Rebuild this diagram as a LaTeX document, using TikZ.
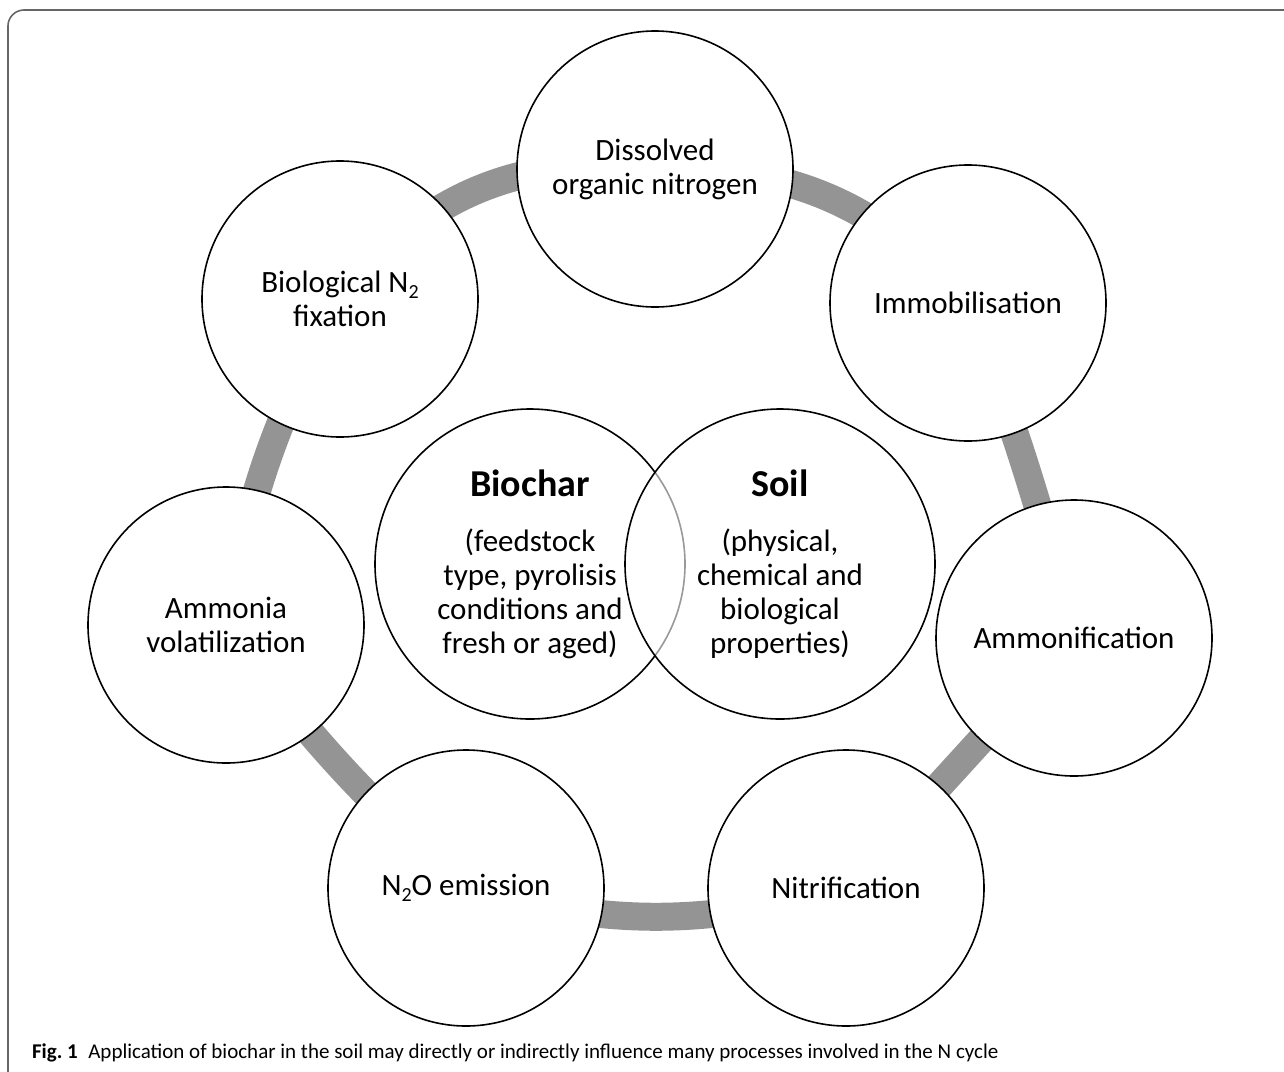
\documentclass[tikz,border=0pt]{standalone}
\usepackage{fontspec}
\setmainfont{Carlito}
\usetikzlibrary{backgrounds}

\begin{document}
\begin{tikzpicture}[-,
					x=0.5pt, y=-0.5pt,
					thick,
					main node/.style={circle,draw,fill=white,minimum size=138pt,inner sep=0pt,align=center,
						font=\fontsize{15.5}{17}\selectfont},
					core node/.style={main node,minimum size=155pt},
					cycle link/.style={color=black!42,line width=14pt},
					frame line/.style={draw=black!60,line width=0.8pt,rounded corners=8pt}]

  \useasboundingbox (0,0) rectangle (1284,1071);
  \draw[frame line] (8,1120) |- (1320,10);

  % N cycle processes
  \node[main node] (DON) at (655,169) {Dissolved\\organic nitrogen};
  \node[main node] (IMM) at (968,303) {Immobilisation};
  \node[main node] (AMF) at (1074,638) {Ammonification};
  \node[main node] (NIT) at (846,888) {Nitrification};
  \node[main node] (NOE) at (466,888) {N\raisebox{-0.4ex}{\fontsize{10}{10}\selectfont 2}O emission};
  \node[main node] (AMV) at (226,625) {Ammonia\\volatilization};
  \node[main node] (BNF) at (340,299) {Biological N\raisebox{-0.4ex}{\fontsize{10}{10}\selectfont 2}\\fixation};

  % biochar and soil
  \node[core node] (BC) at (530,564) {{\fontsize{19}{17}\selectfont\bfseries Biochar}\\[10.5pt]
    (feedstock\\type, pyrolisis\\conditions and\\fresh or aged)};
  \node[core node,fill opacity=0.6,text opacity=1] (SO) at (780,564) {{\fontsize{19}{17}\selectfont\bfseries Soil}\\[10.5pt]
    (physical,\\chemical and\\biological\\properties)};

  \begin{pgfonlayer}{background}
    \path[cycle link]
      (DON.center) edge[bend left=25] (IMM.center)
      (IMM.center) edge[bend left=3] (AMF.center)
      (AMF.center) edge (NIT.center)
      (NIT.center) edge[bend left=15] (NOE.center)
      (NOE.center) edge[bend left=6] (AMV.center)
      (AMV.center) edge[bend left=9] (BNF.center)
      (BNF.center) edge[bend left=29] (DON.center);
  \end{pgfonlayer}

  \node[anchor=base west,font=\fontsize{10.5}{12}\selectfont] (CAP) at (25,1058)
    {\textbf{Fig.~1}\enspace Application of biochar in the soil may directly or indirectly influence many processes involved in the N cycle};
\end{tikzpicture}
\end{document}
